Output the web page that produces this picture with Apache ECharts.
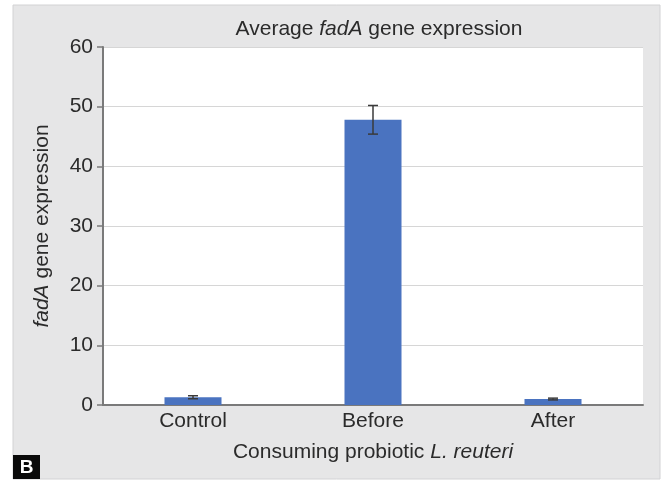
<!DOCTYPE html>
<html>
<head>
<meta charset="utf-8">
<script src="https://cdn.jsdelivr.net/npm/echarts@6/dist/echarts.min.js"></script>
<style>
  html, body { margin: 0; padding: 0; background: #ffffff; }
  #chart { width: 666px; height: 487px; }
</style>
</head>
<body>
<div id="chart"></div>
<script>
// Groups on the x axis
const categories = ['Control', 'Before', 'After'];
// Mean fadA expression per group
const meanValues = [1.3, 47.8, 1.0];
// Error (± half-range) per group
const errorValues = [0.25, 2.4, 0.15];
// Y-axis tick settings
const yMin = 0, yMax = 60, yStep = 10;

const FONT = '"Liberation Sans", Arial, sans-serif';
const FS = 21;
const TXT = '#2b2b2b';

const chart = echarts.init(document.getElementById('chart'), null, { renderer: 'canvas' });

const errorData = categories.map((c, i) => [i, meanValues[i] - errorValues[i], meanValues[i] + errorValues[i]]);

const italicRich = { i: { fontFamily: FONT, fontSize: FS, fontStyle: 'italic', color: TXT } };

chart.setOption({
  backgroundColor: '#ffffff',
  animation: false,
  graphic: [
    {
      type: 'rect', z: -10, silent: true,
      shape: { x: 13, y: 5, width: 647, height: 474 },
      style: { fill: '#e6e6e7', stroke: '#d2d2d4', lineWidth: 1 }
    },
    {
      type: 'rect', z: -9, silent: true,
      shape: { x: 103, y: 47, width: 540, height: 358 },
      style: { fill: '#ffffff', stroke: null }
    },
    {
      type: 'rect', z: 10, silent: true,
      shape: { x: 13, y: 455, width: 27, height: 24 },
      style: { fill: '#0a0a0a' }
    },
    {
      type: 'text', z: 11, silent: true,
      x: 26.5, y: 467.5,
      style: { text: 'B', fill: '#ffffff', font: 'bold 19px ' + FONT, align: 'center', verticalAlign: 'middle' }
    }
  ],
  title: {
    text: 'Average {i|fadA} gene expression',
    left: 374, top: 14, textAlign: 'center',
    textStyle: {
      fontFamily: FONT, fontSize: FS, fontWeight: 'normal', color: TXT,
      rich: italicRich
    }
  },
  grid: { left: 103, right: 23, top: 47, bottom: 82, containLabel: false },
  xAxis: {
    type: 'category',
    data: categories,
    name: 'Consuming probiotic {i|L. reuteri}',
    nameLocation: 'middle',
    nameGap: 37,
    nameTextStyle: {
      fontFamily: FONT, fontSize: FS, color: TXT,
      rich: italicRich
    },
    axisLine: { lineStyle: { color: '#7a7a7a', width: 2 } },
    axisTick: { show: false },
    axisLabel: { fontFamily: FONT, fontSize: FS, color: TXT, margin: 6 }
  },
  yAxis: {
    type: 'value',
    min: yMin, max: yMax, interval: yStep,
    name: '{i|fadA} gene expression',
    nameLocation: 'middle',
    nameGap: 50,
    nameRotate: 90,
    nameTextStyle: {
      fontFamily: FONT, fontSize: FS, color: TXT,
      rich: italicRich
    },
    axisLine: { show: true, lineStyle: { color: '#7a7a7a', width: 2 } },
    axisTick: { show: true, length: 6, lineStyle: { color: '#7a7a7a', width: 1.5 } },
    axisLabel: { fontFamily: FONT, fontSize: FS, color: TXT, margin: 10 },
    splitLine: { lineStyle: { color: '#d6d6d6', width: 1 } }
  },
  series: [
    {
      type: 'bar',
      data: meanValues,
      barWidth: 57,
      itemStyle: { color: '#4a73c0' },
      z: 2
    },
    {
      type: 'custom',
      z: 3,
      data: errorData,
      renderItem: function (params, api) {
        const x = api.value(0);
        const lo = api.coord([x, api.value(1)]);
        const hi = api.coord([x, api.value(2)]);
        const hw = 5;
        const st = { stroke: '#3a3a3a', lineWidth: 1.5, fill: null };
        return {
          type: 'group',
          children: [
            { type: 'line', shape: { x1: hi[0], y1: hi[1], x2: lo[0], y2: lo[1] }, style: st },
            { type: 'line', shape: { x1: hi[0] - hw, y1: hi[1], x2: hi[0] + hw, y2: hi[1] }, style: st },
            { type: 'line', shape: { x1: lo[0] - hw, y1: lo[1], x2: lo[0] + hw, y2: lo[1] }, style: st }
          ]
        };
      }
    }
  ]
});
</script>
</body>
</html>
